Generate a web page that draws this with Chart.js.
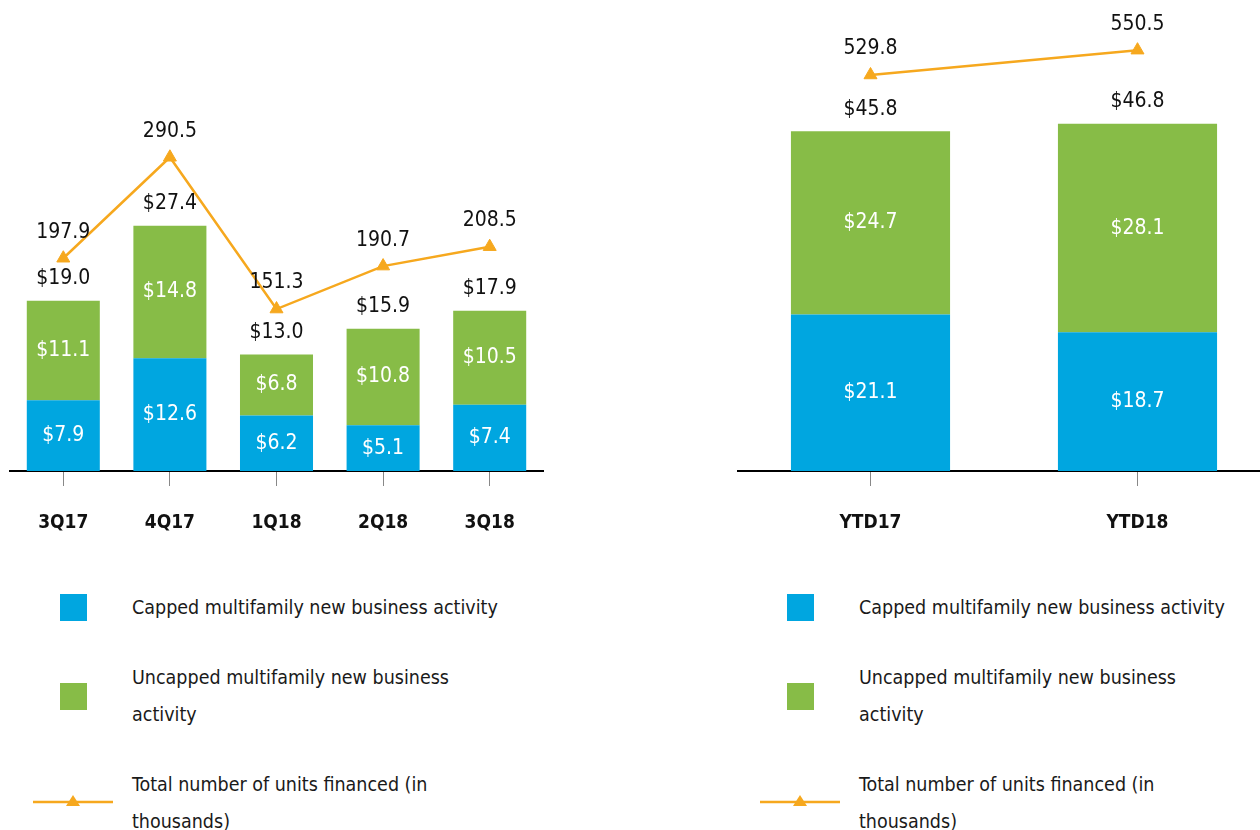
<!DOCTYPE html>
<html>
<head>
<meta charset="utf-8">
<script src="https://cdn.jsdelivr.net/npm/chart.js@4.4.1/dist/chart.umd.min.js"></script>
<style>
  html, body { margin: 0; padding: 0; background: #fff; }
  body { width: 1260px; height: 830px; overflow: hidden; position: relative;
         font-family: 'Liberation Sans Narrow', 'DejaVu Sans Condensed', 'Arial Narrow', sans-serif; color: #1a1a1a; }
  canvas { position: absolute; top: 0; }
  #left  { left: 0; }
  #right { left: 737px; }
  .sw { position: absolute; width: 27px; height: 27px; }
  .lg { position: absolute; font-size: 19.5px; line-height: 37px; white-space: nowrap; }
  .ln { position: absolute; }
</style>
</head>
<body>
<canvas id="left" width="553" height="561"></canvas>
<canvas id="right" width="534" height="561"></canvas>
<div id="legends"></div>
<script>
// ── Data ─────────────────────────────────────────────────────────────────────
const QUARTERS      = ["3Q17", "4Q17", "1Q18", "2Q18", "3Q18"];
const Q_CAPPED      = [7.9, 12.6, 6.2, 5.1, 7.4];
const Q_UNCAPPED    = [11.1, 14.8, 6.8, 10.8, 10.5];
const Q_UNITS       = [197.9, 290.5, 151.3, 190.7, 208.5];

const YEARS         = ["YTD17", "YTD18"];
const Y_CAPPED      = [21.1, 18.7];
const Y_UNCAPPED    = [24.7, 28.1];
const Y_UNITS       = [529.8, 550.5];

const LEGEND_LABELS = [
  "Capped multifamily new business activity",
  "Uncapped multifamily new business<br>activity",
  "Total number of units financed (in<br>thousands)",
];

// ── Style ────────────────────────────────────────────────────────────────────
const BLUE   = "#00A6E0";
const GREEN  = "#87BC47";
const ORANGE = "#F6A81E";
const FONT   = "'Liberation Sans Narrow', 'DejaVu Sans Condensed', 'Arial Narrow', sans-serif";

// ── Value labels plugin ──────────────────────────────────────────────────────
const valueLabels = {
  id: "valueLabels",
  afterDatasetsDraw(chart) {
    const ctx = chart.ctx;
    ctx.save();
    ctx.textAlign = "center";
    ctx.textBaseline = "middle";
    ctx.font = `21px ${FONT}`;
    const capped   = chart.getDatasetMeta(0);
    const uncapped = chart.getDatasetMeta(1);
    const units    = chart.getDatasetMeta(2);
    const ds = chart.data.datasets;

    [capped, uncapped].forEach((meta, i) => {
      meta.data.forEach((el, j) => {
        ctx.fillStyle = "#fff";
        ctx.fillText("$" + ds[i].data[j].toFixed(1), el.x, (el.y + el.base) / 2);
      });
    });
    uncapped.data.forEach((el, j) => {
      const total = ds[0].data[j] + ds[1].data[j];
      ctx.fillStyle = "#111";
      ctx.fillText("$" + total.toFixed(1), el.x, el.y - 22);
    });
    units.data.forEach((el, j) => {
      ctx.fillStyle = "#111";
      ctx.fillText(ds[2].data[j].toFixed(1), el.x, el.y - 26);
    });
    ctx.restore();
  },
};

// ── Chart builder ────────────────────────────────────────────────────────────
function buildChart(canvasId, labels, capped, uncapped, units, opts) {
  return new Chart(document.getElementById(canvasId), {
    data: {
      labels,
      datasets: [
        { type: "bar", data: capped,   backgroundColor: BLUE,  yAxisID: "y", order: 2,
          barPercentage: opts.barPct, categoryPercentage: 1 },
        { type: "bar", data: uncapped, backgroundColor: GREEN, yAxisID: "y", order: 2,
          barPercentage: opts.barPct, categoryPercentage: 1 },
        { type: "line", data: units, yAxisID: "y1", order: 1, clip: false,
          borderColor: ORANGE, borderWidth: 2.5, tension: 0,
          pointStyle: "triangle", pointRadius: 7.5, pointBorderWidth: 1,
          pointBackgroundColor: ORANGE, pointBorderColor: ORANGE },
      ],
    },
    options: {
      responsive: false,
      animation: false,
      devicePixelRatio: 1,
      layout: { autoPadding: false, padding: { left: opts.padLeft, right: opts.padRight, top: 0, bottom: 0 } },
      plugins: { legend: { display: false }, tooltip: { enabled: false } },
      scales: {
        x: {
          stacked: true,
          afterFit(scale) { scale.height = 90; },
          grid: { offset: false, drawOnChartArea: false, drawTicks: true, tickLength: 15, color: "#888", lineWidth: 1 },
          border: { display: true, color: "#000", width: 2 },
          ticks: { color: "#111", padding: 26, font: { family: FONT, size: 19, weight: "bold" } },
        },
        y:  { stacked: true, display: false, min: 0, max: opts.barMax },
        y1: { display: false, min: opts.lineMin, max: opts.lineMax },
      },
    },
    plugins: [valueLabels],
  });
}

buildChart("left", QUARTERS, Q_CAPPED, Q_UNCAPPED, Q_UNITS,
  { barPct: 0.685, padLeft: 10, padRight: 10, barMax: 52.6, lineMin: 2.75, lineMax: 434.75 });
buildChart("right", YEARS, Y_CAPPED, Y_UNCAPPED, Y_UNITS,
  { barPct: 0.596, padLeft: 0, padRight: 0, barMax: 63.5, lineMin: 199.7, lineMax: 592.3 });

// ── Legends ──────────────────────────────────────────────────────────────────
function renderLegend(dx) {
  const host = document.getElementById("legends");
  host.insertAdjacentHTML("beforeend", `
    <div class="sw" style="left:${60 + dx}px; top:594px; background:${BLUE}"></div>
    <div class="lg" style="left:${132 + dx}px; top:589px">${LEGEND_LABELS[0]}</div>
    <div class="sw" style="left:${60 + dx}px; top:683px; background:${GREEN}"></div>
    <div class="lg" style="left:${132 + dx}px; top:659px">${LEGEND_LABELS[1]}</div>
    <svg class="ln" style="left:${33 + dx}px; top:790px" width="80" height="24">
      <line x1="0" y1="12" x2="80" y2="12" stroke="${ORANGE}" stroke-width="2.5"/>
      <polygon points="40,5 47,16 33,16" fill="${ORANGE}"/>
    </svg>
    <div class="lg" style="left:${132 + dx}px; top:766px">${LEGEND_LABELS[2]}</div>
  `);
}
renderLegend(0);
renderLegend(727);
</script>
</body>
</html>
